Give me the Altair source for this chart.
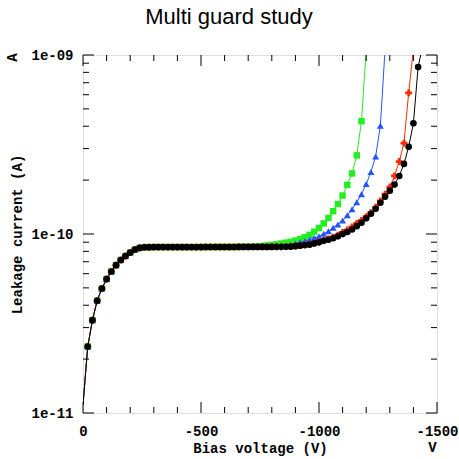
import altair as alt
import pandas as pd

# ---- data (current values in units of 1e-11 A) ----
# shared ramp + plateau, 0 V .. -700 V (all four devices overlap here)
common_v = [0, -20, -40, -60, -80, -100, -120, -140, -160, -180, -200, -220,
            -240, -260, -280, -300, -320, -340, -360, -380, -400, -420, -440,
            -460, -480, -500, -520, -540, -560, -580, -600, -620, -640, -660,
            -680, -700]
common_i = [1.11, 2.35, 3.30, 4.24, 4.96, 5.60, 6.17, 6.70, 7.16, 7.53, 7.87,
            8.18, 8.36, 8.43, 8.44, 8.45, 8.45, 8.45, 8.45, 8.45, 8.45, 8.45,
            8.45, 8.45, 8.45, 8.45, 8.46, 8.46, 8.46, 8.46, 8.46, 8.46, 8.46,
            8.47, 8.47, 8.47]

black_v = [-720, -740, -760, -780, -800, -820, -840, -860, -880, -900, -920,
           -940, -960, -980, -1000, -1020, -1040, -1060, -1080, -1100, -1120,
           -1140, -1160, -1180, -1200, -1220, -1240, -1260, -1280, -1300,
           -1320, -1340, -1360, -1380, -1400, -1420, -1440]
black_i = [8.47, 8.47, 8.47, 8.47, 8.47, 8.48, 8.48, 8.48, 8.50, 8.55, 8.61,
           8.67, 8.72, 8.86, 8.98, 9.16, 9.29, 9.47, 9.70, 9.99, 10.26, 10.60,
           11.06, 11.56, 12.23, 12.97, 13.83, 14.95, 16.16, 17.47, 18.88,
           21.08, 24.63, 30.7, 41.5, 85.6, 114.0]

red_v = [-720, -740, -760, -780, -800, -820, -840, -860, -880, -900, -920,
         -940, -960, -980, -1000, -1020, -1040, -1060, -1080, -1100, -1120,
         -1140, -1160, -1180, -1200, -1220, -1240, -1260, -1280, -1300,
         -1320, -1340, -1360, -1380, -1400]
red_i = [8.47, 8.47, 8.47, 8.47, 8.48, 8.48, 8.49, 8.50, 8.52, 8.57, 8.63,
         8.70, 8.77, 8.90, 9.03, 9.22, 9.38, 9.60, 9.85, 10.20, 10.53, 10.95,
         11.46, 11.90, 12.50, 13.15, 14.10, 15.30, 16.70, 18.30, 21.10,
         25.40, 32.20, 61.5, 108.0]

blue_v = [-720, -740, -760, -780, -800, -820, -840, -860, -880, -900, -920,
          -940, -960, -980, -1000, -1020, -1040, -1060, -1080, -1100, -1120,
          -1140, -1160, -1180, -1200, -1220, -1240, -1260, -1280]
blue_i = [8.47, 8.47, 8.48, 8.49, 8.50, 8.52, 8.57, 8.63, 8.72, 8.84, 8.98,
          9.13, 9.31, 9.52, 9.72, 10.03, 10.37, 10.83, 11.31, 11.91, 12.71,
          13.74, 15.04, 16.69, 19.0, 22.2, 27.1, 40.3, 108.0]

green_v = [-720, -740, -760, -780, -800, -820, -840, -860, -880, -900, -920,
           -940, -960, -980, -1000, -1020, -1040, -1060, -1080, -1100, -1120,
           -1140, -1160, -1180, -1200]
green_i = [8.49, 8.53, 8.58, 8.63, 8.70, 8.77, 8.85, 8.95, 9.05, 9.19, 9.35,
           9.59, 9.89, 10.3, 10.8, 11.46, 12.3, 13.4, 14.7, 16.4, 18.8, 21.8,
           27.5, 42.7, 108.0]

UNIT = 1e-11

x_major = [0, -500, -1000, -1500]
x_minor = [-100, -200, -300, -400, -600, -700, -800, -900, -1100, -1200,
           -1300, -1400]
y_major = [1e-11, 1e-10, 1e-9]
y_minor = [2e-11, 3e-11, 4e-11, 5e-11, 6e-11, 7e-11, 8e-11, 9e-11,
           2e-10, 3e-10, 4e-10, 5e-10, 6e-10, 7e-10, 8e-10, 9e-10]

# ---- layout ----
W, H = 354, 358
FONT = "Liberation Mono"

xs = alt.Scale(domain=[-1500, 0], reverse=True, nice=False, zero=False)
ys = alt.Scale(type="log", domain=[1e-11, 1e-9], nice=False)

series = [
    ("green", green_v, green_i, "#22ee22", "square", 42),
    ("blue", blue_v, blue_i, "#2255ff", "triangle-up", 48),
    ("red", red_v, red_i, "#ff2a00", "cross", 48),
    ("black", black_v, black_i, "#000000", "circle", 44),
]

x_axis = alt.Axis(
    values=x_major, labelExpr="'' + datum.value", ticks=False, domain=False,
    grid=False, labelFont=FONT, labelFontWeight="bold",
    labelFontSize=14, labelColor="black", labelBaseline="alphabetic",
    labelPadding=22, labelFlush=False, labelOverlap=False,
    title="Bias voltage (V)", titleFont=FONT, titleFontWeight="bold",
    titleFontSize=14, titleColor="black", titleX=W / 2, titleY=39,
    titleAlign="center", titleBaseline="alphabetic",
)
y_axis = alt.Axis(
    values=y_major,
    labelExpr="'1e-' + format(round(-log(datum.value) / LN10), '02d')",
    ticks=False, domain=False, grid=False, labelFont=FONT,
    labelFontWeight="bold", labelFontSize=14, labelColor="black",
    labelPadding=10, labelBaseline="middle", labelFlush=False,
    labelOverlap=False,
    title="Leakage current (A)", titleFont=FONT, titleFontWeight="bold",
    titleFontSize=14, titleColor="black", titleX=-66, titleY=H / 2,
    titleAngle=270, titleAlign="center", titleBaseline="middle",
)

X = lambda f: alt.X(f, scale=xs, axis=x_axis)
Y = lambda f: alt.Y(f, scale=ys, axis=y_axis)

layers = []
for name, tv, ti, color, shape, size in series:
    v = common_v + tv
    i = [c * UNIT for c in common_i + ti]
    df = pd.DataFrame({"V": v, "I": i, "series": name})
    line = alt.Chart(df).mark_line(color=color, strokeWidth=1, clip=True).encode(
        x=X("V:Q"), y=Y("I:Q"))
    pts = alt.Chart(df).transform_filter("datum.V < 0").mark_point(
        shape=shape, filled=True, size=size, color=color, opacity=1,
        clip=True).encode(x=X("V:Q"), y=Y("I:Q"))
    layers += [line, pts]

def xticks(vals, length):
    d = pd.DataFrame({"V": vals})
    b = alt.Chart(d).mark_rule(color="black", strokeWidth=1).encode(
        x=X("V:Q"), y=alt.value(H), y2=alt.value(H - length))
    t = alt.Chart(d).mark_rule(color="black", strokeWidth=1).encode(
        x=X("V:Q"), y=alt.value(0), y2=alt.value(length))
    return [b, t]

def yticks(vals, length):
    d = pd.DataFrame({"I": vals})
    l = alt.Chart(d).mark_rule(color="black", strokeWidth=1).encode(
        y=Y("I:Q"), x=alt.value(0), x2=alt.value(length))
    r = alt.Chart(d).mark_rule(color="black", strokeWidth=1).encode(
        y=Y("I:Q"), x=alt.value(W), x2=alt.value(W - length))
    return [l, r]

layers += xticks(x_major, 11) + xticks(x_minor, 6)
layers += yticks(y_major, 11) + yticks(y_minor, 6)

unit_a = alt.Chart(pd.DataFrame({"u": ["A"]})).mark_text(
    font=FONT, fontWeight="bold", fontSize=14, angle=270, align="center",
    baseline="middle", color="black").encode(
    text="u:N", x=alt.value(-69.7), y=alt.value(2.5))
unit_v = alt.Chart(pd.DataFrame({"u": ["V"]})).mark_text(
    font=FONT, fontWeight="bold", fontSize=14, align="center",
    baseline="alphabetic", color="black").encode(
    text="u:N", x=alt.value(349.5), y=alt.value(H + 39))
layers += [unit_a, unit_v]

chart = alt.layer(*layers).properties(
    width=W, height=H,
    title=alt.TitleParams(
        "Multi guard study", font="Liberation Sans", fontSize=22,
        fontWeight="normal", color="black", anchor="middle", dx=-31,
        baseline="alphabetic", offset=2),
    autosize=alt.AutoSizeParams(type="none"),
    padding={"left": 83, "top": 55, "right": 22, "bottom": 46},
).configure_view(stroke="black", strokeWidth=1).configure(background="white")

chart.save("out.html", embed_options={"renderer": "svg", "actions": False})
